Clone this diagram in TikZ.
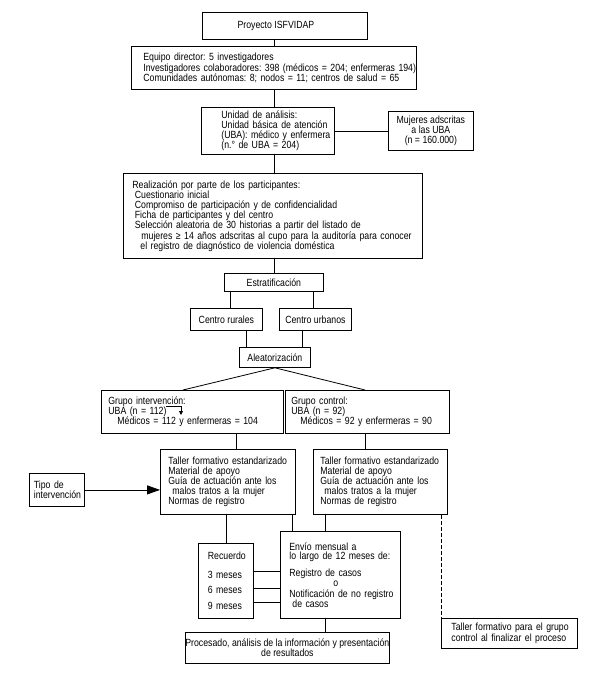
\documentclass[tikz,border=0pt]{standalone}
\usepackage{fontspec}
\setmainfont{Liberation Sans}[FakeStretch=0.84]
\usetikzlibrary{arrows.meta}
\newcommand\bxl[1]{\mbox{#1}}
\begin{document}
\frenchspacing
\begin{tikzpicture}[x=1pt,y=-1pt,
  every node/.style={font=\fontsize{10.4}{10.2}\selectfont},
  box/.style={draw, line width=0.8pt, anchor=north west, inner ysep=0pt, align=left},
  cbox/.style={draw, line width=0.8pt, anchor=north west, inner sep=0pt, align=center},
  conn/.style={line width=0.8pt},
]
\useasboundingbox (0,0) rectangle (598,675);
\fill[white] (0,0) rectangle (598,675);

% columns and rows used by connectors
\coordinate (x183) at (183,0);
\coordinate (x230) at (230,0);
\coordinate (x236) at (236,0);
\coordinate (x246) at (246,0);
\coordinate (x292) at (292,0);
\coordinate (x302) at (302,0);
\coordinate (x313) at (313,0);
\coordinate (x325) at (325,0);
\coordinate (x365) at (365,0);
\coordinate (x441) at (441,0);
\coordinate (x274) at (274,0);
\coordinate (y571) at (0,571);
\coordinate (y588) at (0,588);
\coordinate (y602) at (0,602);

\node[cbox, minimum width=165pt, minimum height=27pt] (proy) at (202,12) {\hspace*{-18pt}Proyecto ISFVIDAP};

\node[box, minimum width=285pt, minimum height=43pt, inner xsep=12pt, text width=261pt] (equipo) at (131,46)
 {\bxl{Equipo director: 5 investigadores}\\
  \bxl{Investigadores colaboradores: 398 (médicos = 204; enfermeras 194)}\\
  \bxl{Comunidades autónomas: 8; nodos = 11; centros de salud = 65}};

\node[box, minimum width=133pt, minimum height=47pt, inner xsep=20pt, text width=93pt] (unidad) at (201,107)
 {\bxl{Unidad de análisis:}\\ \bxl{Unidad básica de atención}\\ \bxl{(UBA): médico y enfermera}\\ \bxl{(n.° de UBA = 204)}};

\node[cbox, minimum width=85pt, minimum height=39pt] (mujeres) at (388,111)
 {Mujeres adscritas\\ a las UBA\\ (n = 160.000)};

\node[box, minimum width=299pt, minimum height=85pt, inner xsep=9pt, text width=281pt] (real) at (123,173)
 {\bxl{Realización por parte de los participantes:}\\
  \bxl{\hspace*{2.5pt}Cuestionario inicial}\\
  \bxl{\hspace*{2.5pt}Compromiso de participación y de confidencialidad}\\
  \bxl{\hspace*{2.5pt}Ficha de participantes y del centro}\\
  \bxl{\hspace*{2.5pt}Selección aleatoria de 30 historias a partir del listado de}\\
  \bxl{\hspace*{9pt}mujeres ≥ 14 años adscritas al cupo para la auditoría para conocer}\\
  \bxl{\hspace*{8pt}el registro de diagnóstico de violencia doméstica}};

\node[cbox, minimum width=99pt, minimum height=18pt] (estrat) at (224,273) {Estratificación};
\node[cbox, minimum width=72pt, minimum height=22pt] (rural) at (190,308) {Centro rurales};
\node[cbox, minimum width=72pt, minimum height=22pt] (urban) at (279,308) {Centro urbanos};
\node[cbox, minimum width=71pt, minimum height=20pt] (aleat) at (239,347) {Aleatorización};

\node[box, minimum width=182pt, minimum height=43pt, inner xsep=7pt, text width=168pt] (gint) at (101,390)
 {\bxl{Grupo intervención:}\\ \bxl{UBA (n = 112)}\\ \bxl{\hspace*{9pt}Médicos = 112 y enfermeras = 104}};
\node[box, minimum width=164pt, minimum height=43pt, inner xsep=6pt, text width=152pt] (gctl) at (285,390)
 {\bxl{Grupo control:}\\ \bxl{UBA (n = 92)}\\ \bxl{\hspace*{9pt}Médicos = 92 y enfermeras = 90}};

\node[box, minimum width=135pt, minimum height=65pt, inner xsep=8pt, text width=119pt] (tallerL) at (160,449)
 {\bxl{Taller formativo estandarizado}\\ \bxl{Material de apoyo}\\ \bxl{Guía de actuación ante los}\\ \bxl{\hspace*{4pt}malos tratos a la mujer}\\ \bxl{Normas de registro}};
\node[box, minimum width=134pt, minimum height=65pt, inner xsep=7pt, text width=120pt] (tallerR) at (313,449)
 {\bxl{Taller formativo estandarizado}\\ \bxl{Material de apoyo}\\ \bxl{Guía de actuación ante los}\\ \bxl{\hspace*{4pt}malos tratos a la mujer}\\ \bxl{Normas de registro}};

\node[box, minimum width=55pt, minimum height=33pt, inner xsep=4.5pt, text width=46pt] (tipo) at (29,473)
 {\bxl{Tipo de}\\ \bxl{intervención}};

\node[box, minimum width=55pt, minimum height=75pt, inner xsep=9.5pt, text width=36pt] (recuerdo) at (198,543)
 {\bxl{Recuerdo}\\[8.8pt] \bxl{3 meses}\\[4.8pt] \bxl{6 meses}\\[5.8pt] \bxl{9 meses}};

\node[box, minimum width=120pt, minimum height=87pt, inner xsep=9pt, text width=102pt] (envio) at (280,531)
 {\bxl{Envío mensual a}\\[-0.7pt] \bxl{lo largo de 12 meses de:}\\[7pt] \bxl{Registro de casos}\\ \bxl{\hspace*{44pt}o}\\ \bxl{Notificación de no registro}\\ \bxl{\hspace*{3pt}de casos}};

\node[box, minimum width=136pt, minimum height=30pt, inner xsep=10pt, text width=116pt] (final) at (441,618)
 {\bxl{Taller formativo para el grupo}\\ \bxl{control al finalizar el proceso}};

\node[cbox, minimum width=176pt, minimum height=31pt] (proc) at (185,632)
 {Procesado, análisis de la información y presentación\\ de resultados};

% connectors
\draw[conn] (proy.south -| x274) -- (equipo.north -| x274);
\draw[conn] (equipo.south -| x274) -- (unidad.north -| x274);
\draw[conn] (unidad.east) -- (mujeres.west |- unidad.east);
\draw[conn] (unidad.south -| x274) -- (real.north -| x274);
\draw[conn] (real.south -| x274) -- (estrat.north -| x274);
\draw[conn] (estrat.south -| x230) -- (rural.north -| x230);
\draw[conn] (estrat.south -| x313) -- (urban.north -| x313);
\draw[conn] (rural.south -| x246) -- (aleat.north -| x246);
\draw[conn] (urban.south -| x302) -- (aleat.north -| x302);
\draw[conn] (aleat.south) -- (gint.north -| x183);
\draw[conn] (aleat.south) -- (gctl.north -| x365);
\draw[conn] (gint.south -| x236) -- (tallerL.north -| x236);
\draw[conn] (gctl.south -| x365) -- (tallerR.north -| x365);
\draw[conn, -{Triangle[length=13pt,width=9pt]}] (tipo.east) -- (tallerL.west |- tipo.east);
\draw[conn] (tallerL.south -| recuerdo.north) -- (recuerdo.north);
\draw[conn] (tallerL.south -| x292) -- (envio.north -| x292);
\draw[conn] (tallerR.south -| x325) -- (envio.north -| x325);
\draw[conn, dash pattern=on 4pt off 2pt] (tallerR.south -| x441) -- (final.north west);
\draw[conn] (recuerdo.east |- y571) -- (envio.west |- y571);
\draw[conn] (recuerdo.east |- y588) -- (envio.west |- y588);
\draw[conn] (recuerdo.east |- y602) -- (envio.west |- y602);
\draw[conn] (envio.south -| x325) -- (proc.north -| x325);

% small arrow inside the intervention box
\coordinate (a1) at (166,406.5);
\coordinate (a2) at (181,406.5);
\coordinate (a3) at (181,415);
\draw[conn, -{Triangle[length=4pt,width=4pt]}] (a1) -- (a2) -- (a3);
\end{tikzpicture}
\end{document}
